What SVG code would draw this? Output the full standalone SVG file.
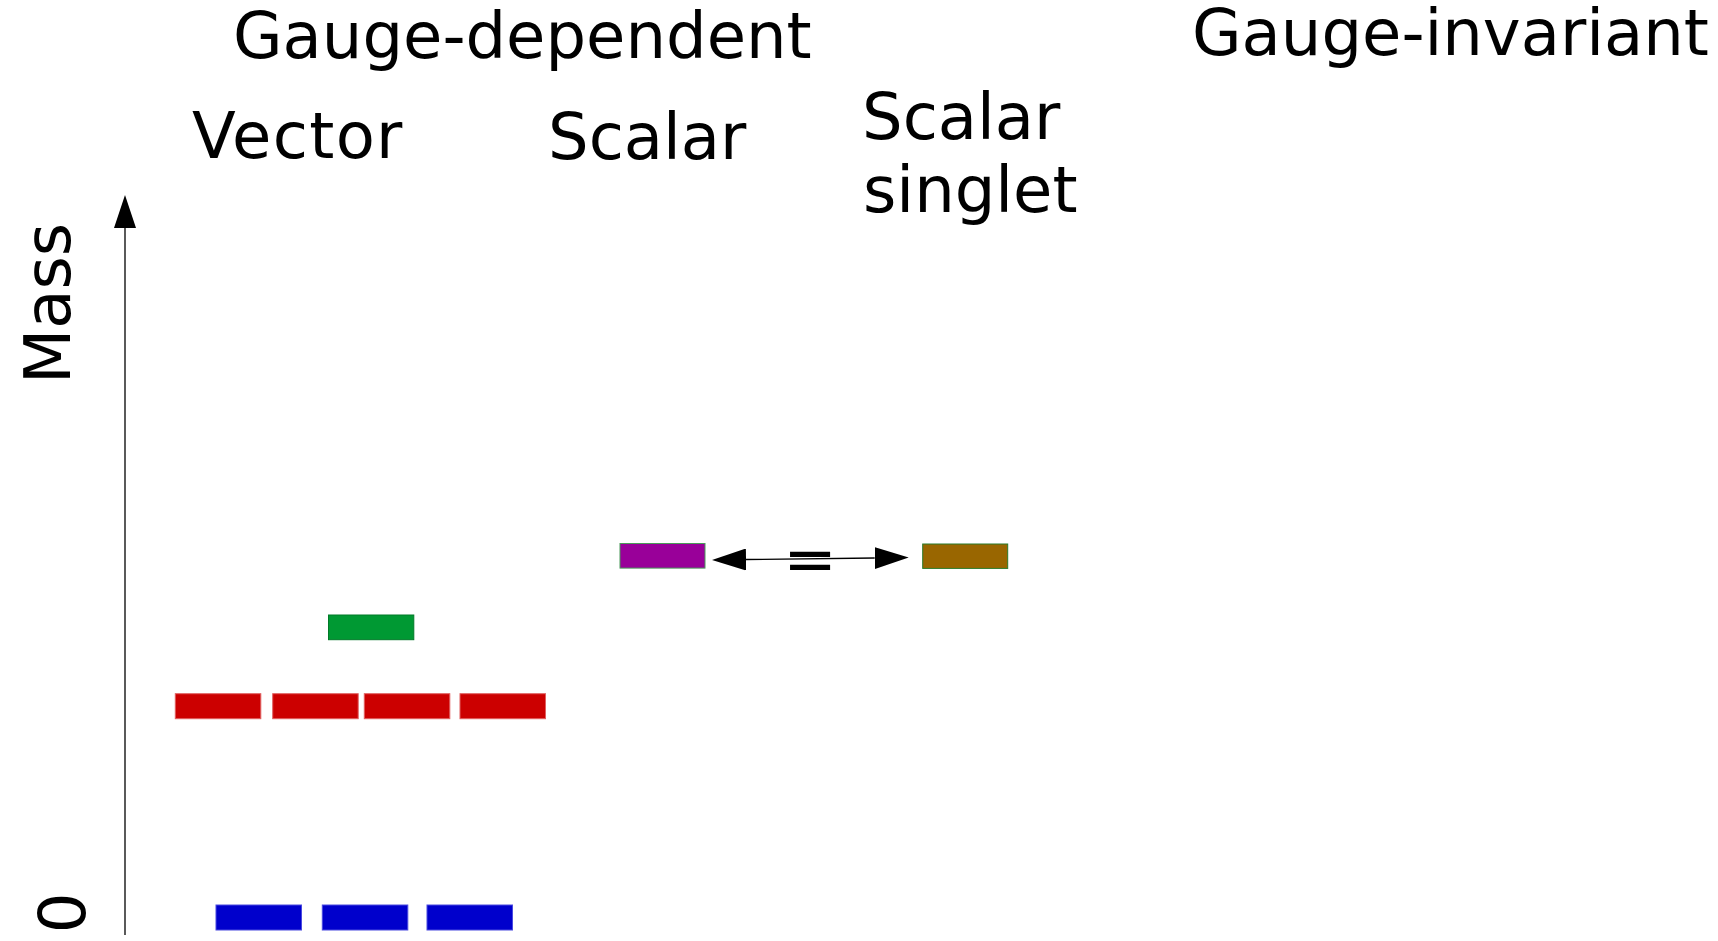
<svg xmlns="http://www.w3.org/2000/svg" width="1718" height="941" viewBox="0 0 1718 941">
<style>
text{font-family:"DejaVu Sans","Liberation Sans",sans-serif;font-size:64px;fill:#000}
.lvl{stroke-width:1}
.red{fill:#cc0000;stroke:#e06060}
.blue{fill:#0000cc;stroke:#4a4ae0}
.green{fill:#009933;stroke:#007a28}
.purple{fill:#990099;stroke:#4a9a5a}
.brown{fill:#996600;stroke:#2a7a2a}
.conn{stroke:#000;stroke-width:1.3;fill:none}
</style>
<defs>
<marker id="ah" viewBox="0 0 34 22" refX="0" refY="11" markerWidth="34" markerHeight="22" markerUnits="userSpaceOnUse" orient="auto-start-reverse">
<path d="M0,0 L34,11 L0,22 Z" fill="#000"/>
</marker>
</defs>
<g id="headers">
<text x="233" y="58">Gauge-dependent</text>
<text x="1192" y="55">Gauge-invariant</text>
<text x="192" y="158" letter-spacing="1.3">Vector</text>
<text x="548" y="159">Scalar</text>
<text x="862" y="139">Scalar</text>
<text x="863" y="212">singlet</text>
</g>
<g id="axis">
<line class="conn" x1="125" y1="935" x2="125" y2="226" stroke="#333"/>
<path d="M125,195 L136,228 L114,228 Z" fill="#000"/>
<text transform="translate(70,384) rotate(-90)">Mass</text>
<text transform="translate(85,913) rotate(-90)" text-anchor="middle">0</text>
</g>
<g id="vector-levels">
<rect class="lvl blue" x="216" y="905" width="85.5" height="25"/>
<rect class="lvl blue" x="322.3" y="905" width="85.5" height="25"/>
<rect class="lvl blue" x="427" y="905" width="85.5" height="25"/>
<rect class="lvl red" x="175.3" y="693.7" width="85.5" height="25"/>
<rect class="lvl red" x="272.7" y="693.7" width="85.5" height="25"/>
<rect class="lvl red" x="364.3" y="693.7" width="85.5" height="25"/>
<rect class="lvl red" x="460" y="693.7" width="85.5" height="25"/>
<rect class="lvl green" x="328.5" y="615" width="85.3" height="24.7"/>
</g>
<g id="scalar-level">
<rect class="lvl purple" x="620" y="543.5" width="85" height="24.6"/>
</g>
<g id="singlet-level">
<rect class="lvl brown" x="922.7" y="544" width="85" height="24.4"/>
</g>
<g id="connectors">
<line class="conn" x1="746" y1="559.5" x2="874.7" y2="558" marker-start="url(#ah)" marker-end="url(#ah)"/>
<text x="810" y="581" text-anchor="middle">=</text>
</g>
</svg>
